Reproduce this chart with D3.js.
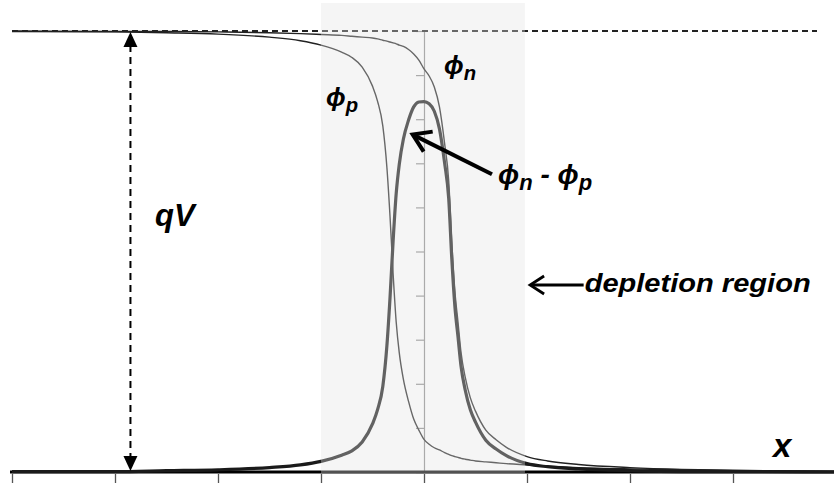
<!DOCTYPE html>
<html>
<head>
<meta charset="utf-8">
<script src="https://cdn.jsdelivr.net/npm/d3@7"></script>
<style>
  html, body { margin: 0; padding: 0; background: #fff; }
  svg { display: block; }
  .lbl { font-family: "Liberation Sans", Arial, "DejaVu Sans", sans-serif; font-weight: bold; font-style: italic; fill: #000; }
</style>
</head>
<body>
<svg id="chart" width="834" height="484"></svg>
<script>
// Position across the junction (arbitrary units, one tick per unit)
const xPos = [-4, -3, -2.5, -2, -1.5, -1.2, -1, -0.8, -0.7, -0.6, -0.5, -0.45, -0.4, -0.36, -0.33, -0.3,
  -0.27, -0.24, -0.2, -0.15, -0.1, -0.05, 0, 0.05, 0.1, 0.15, 0.2, 0.24, 0.27, 0.3, 0.33, 0.36,
  0.4, 0.45, 0.5, 0.6, 0.7, 0.8, 1, 1.2, 1.5, 2, 2.5, 3, 4];

// Hole quasi-Fermi level, normalised to qV
const phiP = [0.999, 0.998, 0.996, 0.993, 0.986, 0.978, 0.968, 0.952, 0.94, 0.918, 0.875, 0.84, 0.785, 0.69, 0.58, 0.45,
  0.34, 0.27, 0.21, 0.16, 0.12, 0.095, 0.074, 0.063, 0.055, 0.05, 0.044, 0.04, 0.037, 0.035, 0.033, 0.031,
  0.029, 0.027, 0.025, 0.023, 0.021, 0.019, 0.016, 0.013, 0.01, 0.007, 0.005, 0.003, 0.001];

// Electron quasi-Fermi level, normalised to qV
const phiN = [1.0, 0.999, 0.999, 0.998, 0.996, 0.994, 0.992, 0.99, 0.988, 0.986, 0.984, 0.982, 0.979, 0.977, 0.975, 0.973,
  0.971, 0.968, 0.965, 0.958, 0.948, 0.934, 0.914, 0.898, 0.873, 0.828, 0.745, 0.66, 0.52, 0.41, 0.34, 0.27,
  0.215, 0.168, 0.138, 0.095, 0.073, 0.056, 0.035, 0.025, 0.017, 0.01, 0.006, 0.004, 0.001];

// Splitting of the quasi-Fermi levels, phi_n - phi_p
const phiDiff = [0.001, 0.001, 0.003, 0.005, 0.01, 0.016, 0.024, 0.038, 0.048, 0.068, 0.109, 0.142, 0.194, 0.287, 0.395, 0.523,
  0.631, 0.698, 0.755, 0.798, 0.828, 0.839, 0.84, 0.835, 0.818, 0.778, 0.701, 0.62, 0.483, 0.375, 0.307, 0.239,
  0.186, 0.141, 0.113, 0.072, 0.052, 0.037, 0.019, 0.012, 0.007, 0.003, 0.001, 0.001, 0];

// Depletion region extent and axis ticks
const depletion = [-1, 0.98];
const xTicks = [-4, -3, -2, -1, 0, 1, 2, 3];
const yTicks = [0, 0.1, 0.2, 0.3, 0.4, 0.5, 0.6, 0.7, 0.8, 0.9, 1];

const svg = d3.select("#chart");
const W = 834, H = 484;

const x = d3.scaleLinear().domain([-4, 4]).range([12, 836]);
const y = d3.scaleLinear().domain([0, 1]).range([472, 31]);

svg.append("rect").attr("width", W).attr("height", H).attr("fill", "#fff");

// vertical axis through x = 0
const yAxis = svg.append("g")
  .attr("transform", `translate(${x(0)},0)`)
  .call(d3.axisLeft(y).tickValues(yTicks).tickSize(8).tickFormat(""));
yAxis.select(".domain").attr("stroke", "#8a8a8a").attr("stroke-width", 1.2);
yAxis.selectAll(".tick line").attr("stroke", "#8a8a8a").attr("stroke-width", 1.2);

// horizontal baseline and its ticks
svg.append("line")
  .attr("x1", 10).attr("x2", W).attr("y1", y(0)).attr("y2", y(0))
  .attr("stroke", "#000").attr("stroke-width", 3);
const xAxis = svg.append("g")
  .attr("transform", `translate(0,${y(0) + 2})`)
  .call(d3.axisBottom(x).tickValues(xTicks).tickSize(9).tickFormat(""));
xAxis.select(".domain").remove();
xAxis.selectAll(".tick line").attr("stroke", "#555").attr("stroke-width", 1.3);

// qV reference level
svg.append("line")
  .attr("x1", 12).attr("x2", 817).attr("y1", y(1)).attr("y2", y(1))
  .attr("stroke", "#222").attr("stroke-width", 2).attr("stroke-dasharray", "6,4");

const line = series => d3.line()
  .x((d, i) => x(xPos[i]))
  .y(d => y(d))
  .curve(d3.curveMonotoneX)(series);

svg.append("path").attr("d", line(phiP))
  .attr("fill", "none").attr("stroke", "#222").attr("stroke-width", 1.4);
svg.append("path").attr("d", line(phiN))
  .attr("fill", "none").attr("stroke", "#222").attr("stroke-width", 1.4);
svg.append("path").attr("d", line(phiDiff))
  .attr("fill", "none").attr("stroke", "#1a1a1a").attr("stroke-width", 3.2);

// translucent band marking the depletion region
svg.append("rect")
  .attr("x", x(depletion[0])).attr("width", x(depletion[1]) - x(depletion[0]))
  .attr("y", 3).attr("height", y(0) + 1 - 3)
  .attr("fill", "rgb(228,228,228)").attr("fill-opacity", 0.36);

// qV double arrow
const qx = x(-2.85);
svg.append("line")
  .attr("x1", qx).attr("x2", qx).attr("y1", y(1) + 14).attr("y2", y(0) - 14)
  .attr("stroke", "#000").attr("stroke-width", 2).attr("stroke-dasharray", "7,5");
svg.append("path")
  .attr("d", `M${qx},${y(1) + 1} L${qx - 7},${y(1) + 16} L${qx + 7},${y(1) + 16} Z`)
  .attr("fill", "#000");
svg.append("path")
  .attr("d", `M${qx},${y(0) - 1} L${qx - 7},${y(0) - 16} L${qx + 7},${y(0) - 16} Z`)
  .attr("fill", "#000");

svg.append("text").attr("class", "lbl")
  .attr("x", 155).attr("y", 226).attr("font-size", 31).text("qV");

// phi labels
function phiLabel(px, py, sub, size) {
  const t = svg.append("text").attr("class", "lbl")
    .attr("x", px).attr("y", py).attr("font-size", size);
  t.append("tspan").text("ϕ");
  t.append("tspan").attr("font-size", size * 0.78).attr("dy", size * 0.22).text(sub);
  return t;
}
phiLabel(326, 106, "p", 26);
phiLabel(444, 74, "n", 26);

const dl = svg.append("text").attr("class", "lbl")
  .attr("x", 498).attr("y", 184).attr("font-size", 28);
dl.append("tspan").text("ϕ");
dl.append("tspan").attr("font-size", 22).attr("dy", 6).text("n");
dl.append("tspan").attr("dy", -6).text(" - ϕ");
dl.append("tspan").attr("font-size", 22).attr("dy", 6).text("p");

// pointer to the splitting curve
const tipX = x(-0.11), tipY = y(0.765);
const tailX = x(0.66), tailY = y(0.675);
svg.append("line")
  .attr("x1", tailX).attr("y1", tailY).attr("x2", tipX + 2).attr("y2", tipY + 1)
  .attr("stroke", "#000").attr("stroke-width", 4);
svg.append("path")
  .attr("d", `M${tipX + 20},${tipY - 3} L${tipX},${tipY} L${tipX + 11},${tipY + 17}`)
  .attr("fill", "none").attr("stroke", "#000").attr("stroke-width", 4)
  .attr("stroke-linejoin", "miter").attr("stroke-linecap", "butt");

// depletion region label
const ay = y(0.424);
const ax0 = x(1.03), ax1 = x(1.55);
svg.append("line")
  .attr("x1", ax0 + 1).attr("x2", ax1).attr("y1", ay).attr("y2", ay)
  .attr("stroke", "#000").attr("stroke-width", 2.8);
svg.append("path")
  .attr("d", `M${ax0 + 14},${ay - 9} L${ax0},${ay} L${ax0 + 14},${ay + 9}`)
  .attr("fill", "none").attr("stroke", "#000").attr("stroke-width", 2.8);
svg.append("text").attr("class", "lbl")
  .attr("x", ax1 + 1).attr("y", 292).attr("font-size", 26)
  .attr("textLength", 226).attr("lengthAdjust", "spacingAndGlyphs")
  .text("depletion region");

// axis label
svg.append("text").attr("class", "lbl")
  .attr("x", 773).attr("y", 457).attr("font-size", 33).text("x");
</script>
</body>
</html>
